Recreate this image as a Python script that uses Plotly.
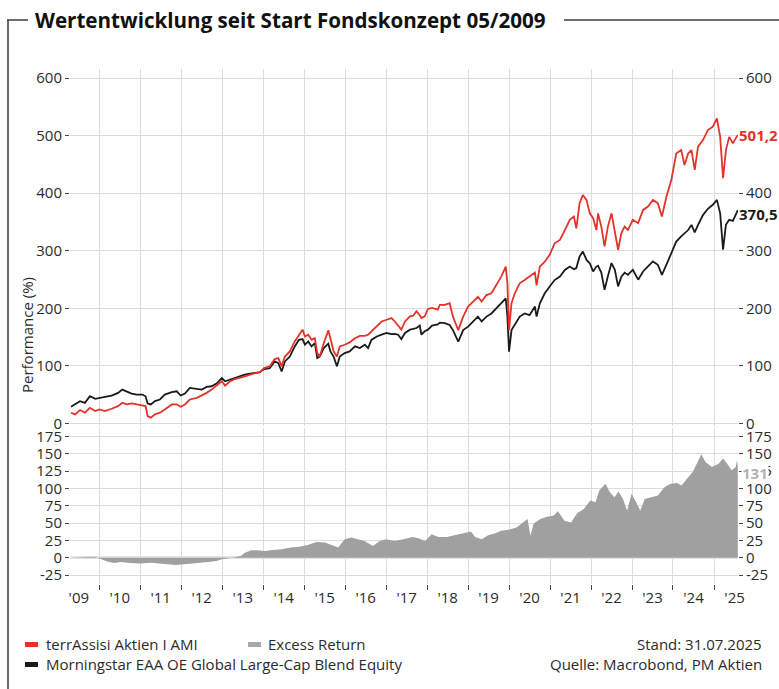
import plotly.graph_objects as go
from datetime import datetime

# ---------------- data ----------------
perf_years = [
    2009.31, 2009.41, 2009.53, 2009.65, 2009.77, 2009.90, 2010.00, 2010.14, 2010.30, 2010.46,
    2010.56, 2010.67, 2010.79, 2010.91, 2011.05, 2011.13, 2011.18, 2011.26, 2011.36, 2011.48,
    2011.60, 2011.77, 2011.89, 2011.99, 2012.09, 2012.21, 2012.38, 2012.50, 2012.62, 2012.74,
    2012.86, 2012.99, 2013.07, 2013.19, 2013.31, 2013.43, 2013.55, 2013.68, 2013.80, 2013.92,
    2014.02,
    2014.16, 2014.28, 2014.37, 2014.45, 2014.53, 2014.65, 2014.77, 2014.87, 2014.96, 2015.02,
    2015.10, 2015.18, 2015.26, 2015.32, 2015.38, 2015.48, 2015.59, 2015.64, 2015.72, 2015.80,
    2015.87, 2015.99, 2016.11, 2016.24, 2016.36, 2016.48, 2016.56, 2016.64, 2016.77, 2016.89,
    2017.01, 2017.13, 2017.21, 2017.29, 2017.37, 2017.46, 2017.58, 2017.66, 2017.74, 2017.82,
    2017.86, 2017.94, 2018.02, 2018.12, 2018.26,
    2018.31, 2018.43, 2018.55, 2018.63, 2018.76, 2018.88, 2019.00, 2019.12, 2019.24, 2019.33,
    2019.45, 2019.57, 2019.69, 2019.81, 2019.92, 2019.96, 2020.00, 2020.06, 2020.14, 2020.26,
    2020.38, 2020.50, 2020.63, 2020.67, 2020.75, 2020.87, 2020.99, 2021.11, 2021.24, 2021.36,
    2021.48, 2021.58, 2021.64, 2021.72, 2021.80, 2021.89, 2021.97, 2022.05, 2022.13,
    2022.17, 2022.25, 2022.33, 2022.41, 2022.50, 2022.58, 2022.66, 2022.74, 2022.82, 2022.90,
    2023.02, 2023.15, 2023.27, 2023.39, 2023.51, 2023.63, 2023.73, 2023.84, 2023.96, 2024.08,
    2024.20, 2024.28, 2024.37, 2024.45, 2024.53, 2024.61, 2024.73, 2024.85, 2024.97, 2025.07,
    2025.15, 2025.22, 2025.29, 2025.37, 2025.46, 2025.55, 2025.58,
]

fund_values = [  # terrAssisi Aktien I AMI
    18.4, 15.5, 23.0, 18.4, 27.0, 21.3, 24.0, 21.3, 25.3, 29.9,
    35.6, 32.8, 34.5, 32.8, 31.0, 29.9, 12.6, 9.8, 15.5, 18.4,
    24.0, 32.8, 32.8, 28.7, 32.8, 41.4, 44.3, 48.3, 52.9, 58.6,
    65.5, 73.0, 65.5, 73.0, 77.0, 78.7, 81.6, 84.5, 87.4, 88.5,
    96.0,
    99.0, 111.6, 113.4, 99.0, 116.0, 125.0, 142.4, 154.0, 162.8, 151.0,
    154.0, 145.0, 148.0, 122.0, 116.0, 139.5, 161.6, 148.0, 125.0, 116.0,
    133.7, 136.6, 140.7, 148.0, 152.0, 152.0, 154.0, 160.0, 168.6, 177.0,
    180.0, 183.0, 177.0, 169.8, 162.8, 177.0, 186.0, 187.0, 194.8, 188.0,
    183.0, 186.0, 198.8, 200.6, 197.7,
    205.8, 205.8, 208.7, 185.5, 162.0, 185.5, 203.0, 211.6, 220.0, 211.6,
    223.0, 226.0, 240.6, 255.0, 272.5, 243.5, 162.0, 208.7, 226.0, 243.5,
    249.0, 255.0, 262.0, 240.0, 272.5, 281.0, 292.8, 313.0, 318.8, 336.0,
    353.6, 359.4, 339.0, 382.6, 397.0, 388.0, 365.0, 356.5, 336.0,
    365.0, 342.0, 307.5, 342.0, 365.0, 336.0, 301.7, 330.6, 342.0, 336.0,
    353.8, 348.0, 371.0, 376.9, 388.4, 382.7, 359.5, 394.0, 423.0, 469.0,
    475.0, 449.0, 469.0, 475.0, 440.5, 481.0, 492.5, 509.8, 515.6, 530.0,
    498.0, 426.0, 475.0, 498.0, 486.7, 498.0, 501.2,
]

benchmark_values = [  # Morningstar EAA OE Global Large-Cap Blend Equity
    28.7, 32.8, 38.5, 35.6, 47.1, 42.5, 44.3, 46.0, 48.3, 52.9,
    58.6, 55.7, 51.7, 50.0, 50.0, 47.0, 34.5, 32.8, 38.5, 41.4,
    50.0, 54.0, 55.7, 48.3, 51.7, 61.5, 59.8, 58.6, 63.2, 64.4,
    69.0, 78.7, 73.0, 75.9, 78.7, 80.5, 84.5, 86.2, 87.4, 89.0,
    94.3,
    96.0, 107.6, 104.7, 90.0, 107.6, 116.0, 133.7, 145.0, 146.5, 136.6,
    142.4, 133.7, 139.5, 113.4, 116.0, 130.8, 138.4, 125.0, 116.0, 99.0,
    116.0, 122.0, 125.0, 133.7, 130.8, 136.6, 130.8, 145.0, 151.0, 154.0,
    157.0, 155.0, 155.5, 154.0, 146.5, 157.0, 162.8, 164.0, 165.7, 169.8,
    154.0, 160.0, 162.8, 169.8, 172.0,
    175.0, 174.0, 171.0, 162.0, 142.0, 162.0, 168.0, 177.0, 185.5, 177.0,
    185.5, 191.0, 200.0, 208.7, 217.0, 185.5, 124.6, 162.0, 171.0, 185.5,
    191.0, 188.0, 203.0, 185.5, 208.7, 226.0, 237.7, 249.0, 255.0, 266.7,
    272.5, 268.0, 270.0, 290.0, 298.6, 284.0, 278.0, 264.0, 272.5,
    274.0, 262.0, 232.0, 255.5, 278.6, 267.0, 238.0, 255.0, 262.0, 258.0,
    267.0, 249.7, 264.0, 272.8, 281.5, 275.7, 258.0, 275.7, 296.0, 316.0,
    324.9, 330.0, 336.0, 345.0, 332.0, 345.0, 362.0, 373.0, 380.0, 388.4,
    365.0, 301.7, 345.0, 353.8, 352.0, 366.0, 370.5,
]

excess_years = [
    2009.31, 2009.58, 2009.89, 2010.05, 2010.21, 2010.37, 2010.53, 2010.74, 2011.01, 2011.27,
    2011.48, 2011.70, 2011.86, 2012.01, 2012.23, 2012.44, 2012.65, 2012.86, 2012.99, 2013.13,
    2013.29, 2013.45, 2013.55, 2013.71, 2013.87, 2014.03, 2014.24, 2014.45, 2014.67, 2014.88,
    2015.09, 2015.30, 2015.51, 2015.67, 2015.83, 2015.99, 2016.15, 2016.31, 2016.47, 2016.68,
    2016.84, 2017.00, 2017.21, 2017.42, 2017.64, 2017.79, 2017.95, 2018.11, 2018.27, 2018.48,
    2018.70, 2018.91, 2019.07, 2019.17, 2019.33, 2019.49, 2019.65, 2019.81, 2019.99, 2020.18,
    2020.34, 2020.45, 2020.52, 2020.60, 2020.76, 2020.92, 2021.08, 2021.19, 2021.35, 2021.51,
    2021.66, 2021.82, 2021.98, 2022.11, 2022.20, 2022.35, 2022.46, 2022.57, 2022.67, 2022.78,
    2022.88, 2022.99, 2023.10, 2023.20, 2023.31, 2023.47, 2023.63, 2023.79, 2023.94, 2024.10,
    2024.21, 2024.32, 2024.48, 2024.58, 2024.69, 2024.79, 2024.95, 2025.11, 2025.22, 2025.32,
    2025.43, 2025.53, 2025.56, 2025.58,
]

excess_values = [  # Excess Return
    0.0, 1.0, 1.5, -2.4, -5.8, -7.8, -6.3, -7.8, -8.3, -7.3,
    -8.8, -9.7, -10.7, -9.7, -8.8, -7.8, -6.3, -4.9, -2.4, -1.0,
    1.0, 2.4, 7.3, 10.7, 10.7, 9.7, 11.2, 12.2, 14.6, 16.0,
    18.5, 22.8, 21.9, 18.0, 14.6, 26.7, 29.2, 26.7, 24.3, 17.0,
    24.3, 26.7, 24.3, 26.7, 30.0, 28.2, 24.3, 34.0, 30.0, 30.0,
    33.0, 35.0, 38.0, 30.0, 26.7, 32.6, 35.0, 38.9, 40.4, 43.8,
    51.0, 56.0, 31.6, 49.6, 56.0, 59.3, 60.8, 67.0, 53.5, 51.0,
    64.2, 70.5, 82.6, 80.2, 97.2, 107.0, 94.8, 87.5, 95.8, 85.0,
    68.0, 92.4, 80.2, 68.0, 85.0, 87.5, 90.0, 102.0, 107.0, 108.0,
    104.5, 112.8, 124.0, 136.0, 149.7, 138.5, 131.0, 136.0, 143.4, 136.0,
    126.4, 131.0, 141.0, 131.0,
]

perf_ticks = [0, 100, 200, 300, 400, 500, 600]
perf_tick_text = ["0", "100", "200", "300", "400", "500", "600"]
excess_ticks = [-25, 0, 25, 50, 75, 100, 125, 150, 175]
excess_tick_text = ["-25", "0", "25", "50", "75", "100", "125", "150", "175"]

series_names = ["terrAssisi Aktien I AMI", "Morningstar EAA OE Global Large-Cap Blend Equity", "Excess Return"]
end_labels = ["501,2", "370,5", "131"]
title_text = "Wertentwicklung seit Start Fondskonzept 05/2009"
stand_text = "Stand: 31.07.2025"
source_text = "Quelle: Macrobond, PM Aktien"
y_title = "Performance (%)"

# ---------------- helpers ----------------
def to_date(t):
    y = int(t)
    start = datetime(y, 1, 1)
    end = datetime(y + 1, 1, 1)
    return start + (end - start) * (t - y)

perf_dates = [to_date(t) for t in perf_years]
excess_dates = [to_date(t) for t in excess_years]

RED = "#e5322b"
BLACK = "#1b1b1b"
GREY = "#a0a0a0"
GRID = "#dcdcdc"
TXT = "#2b2b2b"
FONT = "Open Sans"

W, H = 779, 689
ML, MR, MT, MB = 70, 41, 69, 105
PW, PH = W - ML - MR, H - MT - MB

def px(x):
    return (x - ML) / PW

def py(y):
    return (H - MB - y) / PH

fig = go.Figure()

fig.add_trace(go.Scatter(x=excess_dates, y=excess_values, xaxis="x2", yaxis="y2",
                         mode="lines", line=dict(width=0, color=GREY), fill="tozeroy",
                         fillcolor=GREY, name=series_names[2], showlegend=False, hoverinfo="skip"))
fig.add_trace(go.Scatter(x=perf_dates, y=benchmark_values, xaxis="x", yaxis="y",
                         mode="lines", line=dict(width=1.8, color=BLACK),
                         name=series_names[1], showlegend=False))
fig.add_trace(go.Scatter(x=perf_dates, y=fund_values, xaxis="x", yaxis="y",
                         mode="lines", line=dict(width=1.8, color=RED),
                         name=series_names[0], showlegend=False))
# invisible traces so the right-hand mirror axes are drawn
fig.add_trace(go.Scatter(x=[perf_dates[0]], y=[None], xaxis="x", yaxis="y3", showlegend=False, hoverinfo="skip"))
fig.add_trace(go.Scatter(x=[perf_dates[0]], y=[None], xaxis="x2", yaxis="y4", showlegend=False, hoverinfo="skip"))

x_range = [to_date(2009.285), to_date(2025.585)]
top_dom = [py(426), 1.0]
bot_dom = [0.0, py(428)]
perf_range = [-4.7, 616]
exc_range = [-38, 187.5]

tickfont = dict(family=FONT, size=15, color=TXT)
common_x = dict(type="date", range=x_range, dtick="M12", tick0="2010-01-01",
                showgrid=True, gridcolor=GRID, gridwidth=1, zeroline=False, showline=False,
                automargin=False)
y_common = dict(ticks="outside", ticklen=4, tickcolor="#444", tickfont=tickfont,
                automargin=False, zeroline=False)

fig.update_layout(
    width=W, height=H,
    margin=dict(l=ML, r=MR, t=MT, b=MB),
    paper_bgcolor="white", plot_bgcolor="white",
    font=dict(family=FONT, size=15, color=TXT),
    xaxis=dict(**common_x, anchor="y", domain=[0, 1], showticklabels=False, ticks=""),
    xaxis2=dict(**common_x, anchor="y2", domain=[0, 1], ticks="outside", ticklen=5,
                tickcolor="#444", tickwidth=1, ticklabelmode="period", tickformat="'%y",
                tickfont=tickfont, ticklabelstandoff=-5),
    yaxis=dict(**y_common, domain=top_dom, range=perf_range, tickvals=perf_ticks,
               ticktext=perf_tick_text, showgrid=True, gridcolor=GRID, gridwidth=1, anchor="x"),
    yaxis3=dict(**y_common, overlaying="y", side="right", anchor="x", range=perf_range,
                tickvals=perf_ticks, ticktext=perf_tick_text, showgrid=False),
    yaxis2=dict(**{k: v for k, v in y_common.items() if k != "zeroline"},
                domain=bot_dom, range=exc_range, tickvals=excess_ticks, ticktext=excess_tick_text,
                showgrid=True, gridcolor=GRID, gridwidth=1,
                zeroline=True, zerolinecolor="#e2e2e2", zerolinewidth=3, anchor="x2"),
    yaxis4=dict(**y_common, overlaying="y2", side="right", anchor="x2", range=exc_range,
                tickvals=excess_ticks, ticktext=excess_tick_text, showgrid=False),
    showlegend=False,
)

annotations = []
# title
annotations.append(dict(text="<b>" + title_text + "</b>", xref="paper", yref="paper",
                        x=px(33), y=py(20), xanchor="left", yanchor="middle", showarrow=False,
                        font=dict(family=FONT, size=20.6, color="#111111")))
# y axis title
annotations.append(dict(text=y_title, xref="paper", yref="paper", x=px(27), y=py(335),
                        xanchor="center", yanchor="middle", textangle=-90, showarrow=False,
                        font=dict(family=FONT, size=15, color=TXT)))
# end labels (white background covers the right axis tick label underneath)
annotations.append(dict(text="<b>" + end_labels[0] + "</b>", xref="x", yref="y",
                        x=perf_dates[-1], y=fund_values[-1], xanchor="left", yanchor="middle",
                        xshift=0, showarrow=False, bgcolor="white", borderpad=0,
                        font=dict(family=FONT, size=15, color=RED)))
annotations.append(dict(text="<b>" + end_labels[1] + "</b>", xref="x", yref="y",
                        x=perf_dates[-1], y=benchmark_values[-1], xanchor="left", yanchor="middle",
                        xshift=0, yshift=-4, showarrow=False, bgcolor="white", borderpad=0,
                        font=dict(family=FONT, size=15, color=BLACK)))
annotations.append(dict(text="<b>" + end_labels[2] + "</b>", xref="x2", yref="y2",
                        x=excess_dates[-1], y=excess_values[-1], xanchor="left", yanchor="middle",
                        xshift=3, yshift=-6, showarrow=False, bgcolor="white", borderpad=0,
                        font=dict(family=FONT, size=15, color="#b3b3b3")))
# legend texts
legend_font = dict(family=FONT, size=15, color=TXT)
annotations.append(dict(text=series_names[0], xref="paper", yref="paper", x=px(44), y=py(644),
                        xanchor="left", yanchor="middle", showarrow=False, font=legend_font))
annotations.append(dict(text=series_names[2], xref="paper", yref="paper", x=px(266), y=py(644),
                        xanchor="left", yanchor="middle", showarrow=False, font=legend_font))
annotations.append(dict(text=series_names[1], xref="paper", yref="paper", x=px(44), y=py(664),
                        xanchor="left", yanchor="middle", showarrow=False, font=legend_font))
annotations.append(dict(text=stand_text, xref="paper", yref="paper", x=px(764), y=py(644),
                        xanchor="right", yanchor="middle", showarrow=False, font=legend_font))
annotations.append(dict(text=source_text, xref="paper", yref="paper", x=px(764), y=py(664),
                        xanchor="right", yanchor="middle", showarrow=False, font=legend_font))
fig.update_layout(annotations=annotations)

shapes = []
frame = dict(color="#3c3c3c", width=1.5)
shapes.append(dict(type="line", xref="paper", yref="paper", x0=px(7), y0=py(20), x1=px(28), y1=py(20), line=frame))
shapes.append(dict(type="line", xref="paper", yref="paper", x0=px(8), y0=py(20), x1=px(8), y1=py(700), line=frame))
shapes.append(dict(type="line", xref="paper", yref="paper", x0=px(564), y0=py(20), x1=px(790), y1=py(20), line=frame))
# legend markers
shapes.append(dict(type="rect", xref="paper", yref="paper", x0=px(25), x1=px(38), y0=py(647), y1=py(642),
                   fillcolor=RED, line=dict(width=0)))
shapes.append(dict(type="rect", xref="paper", yref="paper", x0=px(248), x1=px(261), y0=py(647), y1=py(642),
                   fillcolor="#a8a8a8", line=dict(width=0)))
shapes.append(dict(type="rect", xref="paper", yref="paper", x0=px(25), x1=px(38), y0=py(667), y1=py(662),
                   fillcolor=BLACK, line=dict(width=0)))
fig.update_layout(shapes=shapes)

fig.write_html("out.html", config={"displayModeBar": False},
               post_script="document.body.style.margin='0px';")
